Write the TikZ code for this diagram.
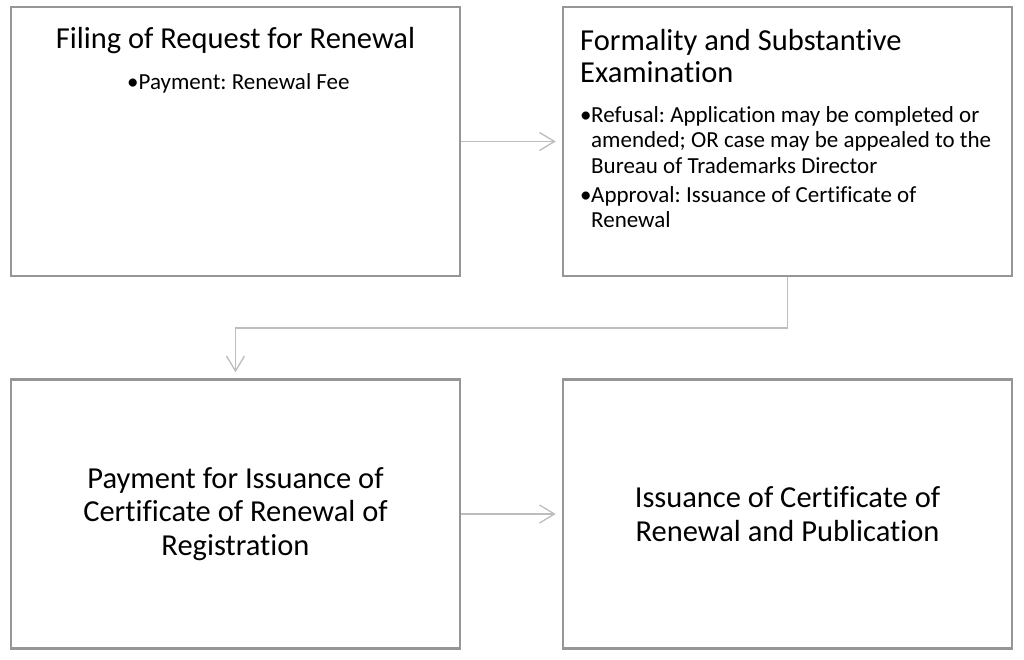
\documentclass[tikz,border=0pt]{standalone}
\usepackage{fontspec}
\setmainfont[Ligatures=NoCommon]{Carlito}
\frenchspacing
\usetikzlibrary{arrows.meta}
\begin{document}
\begin{tikzpicture}[x=1pt,y=-1pt,
  box/.style={draw=boxgray,line width=2.5pt,minimum width=449pt,minimum height=269pt,inner sep=0pt},
  conn/.style={draw=conngray,line width=1.3pt,-{Straight Barb[length=15pt,width=18pt,line width=1.3pt]},shorten >=6pt},
  title/.style={inner sep=0pt,font=\fontsize{30.5}{32}\selectfont},
  bul/.style={inner sep=0pt,font=\fontsize{23}{25.5}\selectfont}]
\definecolor{boxgray}{HTML}{969696}
\definecolor{conngray}{HTML}{BDBDBD}
\useasboundingbox[fill=white] (0,0) rectangle (1024,659);
\node[box] (b1) at (235.5,141.5) {};
\node[box] (b2) at (787.5,141.5) {};
\node[box] (b3) at (235.5,514) {};
\node[box] (b4) at (787.5,514) {};
% texts box 1
\node[title,anchor=base] (t1) at (235.5,48) {Filing of Request for Renewal};
\node[bul,anchor=base west] (t1b) at (127,89) {\textbullet Payment: Renewal Fee};
% texts box 2 (base anchor = last line)
\node[title,anchor=base west,align=left] (t2) at (580,82) {Formality and Substantive\\Examination};
\node[bul,anchor=base west] (d1) at (580,122) {\textbullet};
\node[bul,anchor=base west,align=left] (t2a) at (591,173) {Refusal: Application may be completed or\\amended; OR case may be appealed to the\\Bureau of Trademarks Director};
\node[bul,anchor=base west] (d2) at (580,202) {\textbullet};
\node[bul,anchor=base west,align=left] (t2b) at (591,227.5) {Approval: Issuance of Certificate of\\Renewal};
% texts box 3, 4
\node[title,align=center,font=\fontsize{30.5}{33.5}\selectfont] (t3) at (235.5,514) {Payment for Issuance of\\Certificate of Renewal of\\Registration};
\node[title,align=center,font=\fontsize{30.5}{33.5}\selectfont] (t4) at (787.5,514) {Issuance of Certificate of\\Renewal and Publication};
% connectors
\coordinate (m) at (0,328);
\draw[conn] (b1.east) -- (b2.west);
\draw[conn] (b3.east) -- (b4.west);
\draw[conn] (b2.south) -- (b2.south |- m) -- (b3.north |- m) -- (b3.north);
\end{tikzpicture}
\end{document}
